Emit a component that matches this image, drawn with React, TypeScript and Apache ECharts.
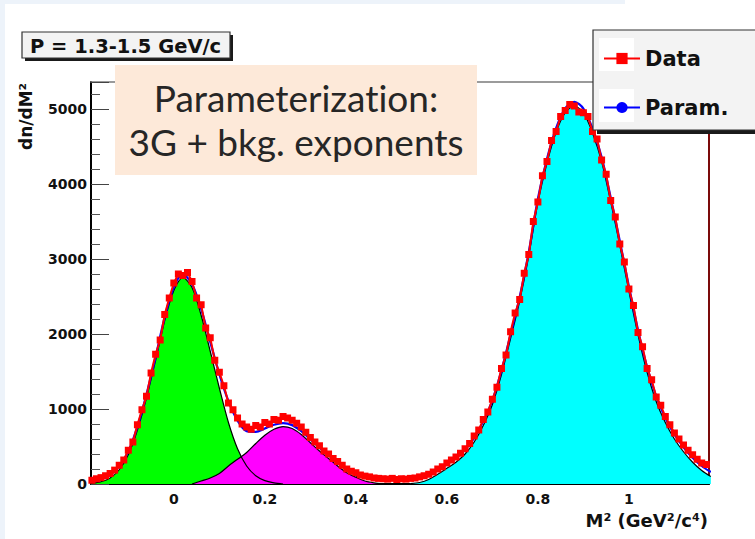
import React, { useEffect, useRef } from "react";
import * as echarts from "echarts";

// ---- Data ----
const dataM2 = [
  -0.18, -0.17, -0.16, -0.15, -0.14, -0.13, -0.12, -0.11, -0.1, -0.09,
  -0.08, -0.07, -0.06, -0.05, -0.04, -0.03, -0.02, -0.01, 0.0, 0.01,
  0.02, 0.03, 0.04, 0.05, 0.06, 0.07, 0.08, 0.09, 0.1, 0.11,
  0.12, 0.13, 0.14, 0.15, 0.16, 0.17, 0.18, 0.19, 0.2, 0.21,
  0.22, 0.23, 0.24, 0.25, 0.26, 0.27, 0.28, 0.29, 0.3, 0.31,
  0.32, 0.33, 0.34, 0.35, 0.36, 0.37, 0.38, 0.39, 0.4, 0.41,
  0.42, 0.43, 0.44, 0.45, 0.46, 0.47, 0.48, 0.49, 0.5, 0.51,
  0.52, 0.53, 0.54, 0.55, 0.56, 0.57, 0.58, 0.59, 0.6, 0.61,
  0.62, 0.63, 0.64, 0.65, 0.66, 0.67, 0.68, 0.69, 0.7, 0.71,
  0.72, 0.73, 0.74, 0.75, 0.76, 0.77, 0.78, 0.79, 0.8, 0.81,
  0.82, 0.83, 0.84, 0.85, 0.86, 0.87, 0.88, 0.89, 0.9, 0.91,
  0.92, 0.93, 0.94, 0.95, 0.96, 0.97, 0.98, 0.99, 1.0, 1.01,
  1.02, 1.03, 1.04, 1.05, 1.06, 1.07, 1.08, 1.09, 1.1, 1.11,
  1.12, 1.13, 1.14, 1.15, 1.16, 1.17, 1.18,
];
const dataCounts = [
  50, 70, 85, 110, 140, 185, 250, 320, 450, 560,
  790, 990, 1170, 1480, 1730, 1920, 2260, 2480, 2680, 2800,
  2780, 2820, 2700, 2480, 2390, 2080, 1950, 1650, 1490, 1310,
  1080, 990, 880, 800, 760, 730, 780, 760, 820, 800,
  860, 850, 900, 880, 850, 810, 760, 690, 620, 560,
  510, 440, 400, 340, 300, 250, 200, 170, 150, 120,
  105, 95, 80, 75, 70, 65, 75, 60, 70, 65,
  75, 80, 95, 110, 130, 160, 200, 230, 280, 320,
  360, 410, 470, 540, 640, 720, 860, 960, 1130, 1290,
  1540, 1720, 2030, 2280, 2460, 2810, 3060, 3500, 3760, 4110,
  4300, 4580, 4700, 4900, 4980, 5060, 5040, 4960, 4950, 4900,
  4700, 4600, 4320, 4130, 3780, 3560, 3200, 2960, 2600, 2380,
  2020, 1830, 1540, 1390, 1160, 1050, 900, 790, 680, 600,
  520, 450, 390, 330, 280, 260, 270,
];

const paramM2 = [
  -0.18, -0.16, -0.14, -0.12, -0.1, -0.08, -0.06, -0.04, -0.02, 0.0,
  0.02, 0.04, 0.06, 0.08, 0.1, 0.12, 0.14, 0.16, 0.18, 0.2,
  0.22, 0.24, 0.26, 0.28, 0.3, 0.32, 0.34, 0.36, 0.38, 0.4,
  0.42, 0.44, 0.46, 0.48, 0.5, 0.52, 0.54, 0.56, 0.58, 0.6,
  0.62, 0.64, 0.66, 0.68, 0.7, 0.72, 0.74, 0.76, 0.78, 0.8,
  0.82, 0.84, 0.86, 0.88, 0.9, 0.92, 0.94, 0.96, 0.98, 1.0,
  1.02, 1.04, 1.06, 1.08, 1.1, 1.12, 1.14, 1.16, 1.18,
];
const paramCounts = [
  55, 75, 125, 235, 435, 765, 1195, 1695, 2225, 2625,
  2795, 2665, 2335, 1895, 1465, 1105, 845, 705, 695, 740,
  790, 811, 785, 705, 595, 485, 385, 285, 195, 135,
  90, 65, 50, 55, 55, 60, 75, 115, 185, 265,
  345, 455, 615, 835, 1115, 1515, 1995, 2495, 3095, 3805,
  4335, 4745, 5005, 5095, 5005, 4740, 4360, 3820, 3240, 2635,
  2055, 1560, 1170, 880, 660, 490, 350, 240, 160,
];

const gaus1M2 = [
  -0.18, -0.16, -0.14, -0.12, -0.1, -0.08, -0.06, -0.04, -0.02, 0.0,
  0.02, 0.04, 0.06, 0.08, 0.1, 0.12, 0.14, 0.16, 0.18, 0.2,
  0.22, 0.24,
];
const gaus1Counts = [
  10, 30, 80, 190, 390, 720, 1150, 1650, 2180, 2580,
  2750, 2620, 2250, 1770, 1280, 820, 470, 240, 110, 45,
  15, 0,
];

const gaus2M2 = [
  0.04, 0.06, 0.08, 0.1, 0.12, 0.14, 0.16, 0.18, 0.2, 0.22,
  0.24, 0.26, 0.28, 0.3, 0.32, 0.34, 0.36, 0.38, 0.4, 0.42,
  0.44, 0.46,
];
const gaus2Counts = [
  0, 40, 80, 140, 240, 330, 420, 540, 650, 730,
  766, 740, 660, 550, 440, 340, 240, 150, 90, 40,
  15, 0,
];

const gaus3M2 = [
  0.52, 0.54, 0.56, 0.58, 0.6, 0.62, 0.64, 0.66, 0.68, 0.7,
  0.72, 0.74, 0.76, 0.78, 0.8, 0.82, 0.84, 0.86, 0.88, 0.9,
  0.92, 0.94, 0.96, 0.98, 1.0, 1.02, 1.04, 1.06, 1.08, 1.1,
  1.12, 1.14, 1.16, 1.18,
];
const gaus3Counts = [
  5, 20, 60, 130, 210, 290, 400, 560, 780, 1060,
  1460, 1940, 2440, 3040, 3750, 4280, 4690, 4950, 5040, 4950,
  4680, 4300, 3760, 3180, 2570, 1990, 1490, 1100, 820, 600,
  430, 290, 180, 100,
];

const xTickValues = [0, 0.2, 0.4, 0.6, 0.8, 1];
const yLabelValues = [0, 1000, 2000, 3000, 4000, 5000];
const legendNames = ["Data", "Param."];
const titleText = "P = 1.3-1.5 GeV/c";
const noteLines = ["Parameterization:", "3G + bkg. exponents"];
const xTitle = "M\u00B2 (GeV\u00B2/c\u2074)";
const yTitle = "dn/dM\u00B2";

const pairs = (xs: number[], ys: number[]) => xs.map((x, i) => [x, ys[i]]);

export default function App() {
  const ref = useRef<HTMLDivElement>(null);

  useEffect(() => {
    if (!ref.current) return;
    const chart = echarts.init(ref.current, null, { renderer: "svg" });
    const rootFont = "DejaVu Sans";
    const xMin = -0.182;
    const xMax = 1.176;
    const yMax = 5360;

    const fillSeries = (name: string, xs: number[], ys: number[], color: string) => ({
      name,
      type: "line",
      data: pairs(xs, ys),
      symbol: "none",
      smooth: 0.3,
      lineStyle: { color: "#000000", width: 1.2 },
      areaStyle: { color, opacity: 1 },
      z: 2,
      silent: true,
    });

    chart.setOption({
      animation: false,
      backgroundColor: "#ffffff",
      grid: { left: 91, top: 82, right: 46, bottom: 55, containLabel: false },
      legend: {
        data: legendNames,
        orient: "vertical",
        left: 598,
        top: 43,
        itemWidth: 36,
        itemHeight: 14,
        itemGap: 28,
        z: 50,
        textStyle: {
          fontFamily: rootFont,
          fontWeight: "bold",
          fontSize: 21,
          color: "#111111",
          padding: [0, 0, 0, 0],
        },
      },
      xAxis: [
        {
          type: "value",
          min: xMin,
          max: xMax,
          position: "bottom",
          axisLine: { show: true, onZero: false, lineStyle: { color: "#000000", width: 2 } },
          axisTick: {
            show: true,
            inside: true,
            length: 10,
            customValues: xTickValues,
            lineStyle: { color: "#333333" },
          },
          axisLabel: {
            customValues: xTickValues,
            formatter: (v: number) => String(v),
            margin: 8,
            fontFamily: rootFont,
            fontWeight: "bold",
            fontSize: 14,
            color: "#111111",
          },
          splitLine: { show: false },
        },
        {
          type: "value",
          min: xMin,
          max: xMax,
          position: "top",
          axisLine: { show: true, onZero: false, lineStyle: { color: "#7a7a7a", width: 1.5 } },
          axisTick: { show: false },
          axisLabel: { show: false },
          splitLine: { show: false },
        },
      ],
      yAxis: [
        {
          type: "value",
          min: 0,
          max: yMax,
          interval: 1000,
          position: "left",
          axisLine: { show: true, onZero: false, lineStyle: { color: "#000000", width: 2 } },
          axisTick: { show: true, inside: true, length: 18, lineStyle: { color: "#444444" } },
          minorTick: { show: true, splitNumber: 5, length: 9, lineStyle: { color: "#555555" } },
          axisLabel: {
            customValues: yLabelValues,
            formatter: (v: number) => String(v),
            margin: 4,
            fontFamily: rootFont,
            fontWeight: "bold",
            fontSize: 14,
            color: "#111111",
          },
          splitLine: { show: false },
          minorSplitLine: { show: false },
        },
        {
          type: "value",
          min: 0,
          max: yMax,
          position: "right",
          axisLine: { show: true, onZero: false, lineStyle: { color: "#7b0a0a", width: 2 } },
          axisTick: { show: false },
          axisLabel: { show: false },
          splitLine: { show: false },
        },
      ],
      series: [
        fillSeries("gaus3", gaus3M2, gaus3Counts, "#00ffff"),
        fillSeries("gaus1", gaus1M2, gaus1Counts, "#00ff00"),
        fillSeries("gaus2", gaus2M2, gaus2Counts, "#ff00ff"),
        {
          name: "Param.",
          type: "line",
          data: pairs(paramM2, paramCounts),
          symbol: "circle",
          symbolSize: 3,
          showSymbol: false,
          smooth: 0.3,
          lineStyle: { color: "#0000ff", width: 2.2 },
          itemStyle: { color: "#0000ff" },
          z: 3,
        },
        {
          name: "Data",
          type: "line",
          data: pairs(dataM2, dataCounts),
          symbol: "rect",
          symbolSize: 7,
          lineStyle: { color: "#ff0000", width: 2 },
          itemStyle: { color: "#ff0000" },
          z: 4,
        },
      ],
      graphic: [
        // pale blue page edges
        { type: "rect", shape: { x: 0, y: 0, width: 625, height: 4 }, style: { fill: "#edf3fa" }, z: 1 },
        { type: "rect", shape: { x: 0, y: 0, width: 5, height: 539 }, style: { fill: "#edf3fa" }, z: 1 },
        // title pave
        { type: "rect", shape: { x: 25, y: 35, width: 208, height: 26 }, style: { fill: "#1a1a1a" }, z: 40 },
        {
          type: "rect",
          shape: { x: 22, y: 32, width: 208, height: 26 },
          style: { fill: "#f3f3f3", stroke: "#333333", lineWidth: 1.2 },
          z: 41,
        },
        {
          type: "text",
          x: 30,
          y: 46,
          style: {
            text: titleText,
            fontFamily: rootFont,
            fontWeight: "bold",
            fontSize: 19.5,
            fill: "#111111",
            align: "left",
            verticalAlign: "middle",
          },
          z: 42,
        },
        // legend box
        { type: "rect", shape: { x: 597, y: 34, width: 170, height: 100 }, style: { fill: "#1a1a1a" }, z: 40 },
        {
          type: "rect",
          shape: { x: 593, y: 30, width: 170, height: 100 },
          style: { fill: "#f3f3f3", stroke: "#333333", lineWidth: 1.2 },
          z: 41,
        },
        { type: "rect", shape: { x: 599, y: 38, width: 35, height: 33 }, style: { fill: "#ffffff" }, z: 42 },
        { type: "rect", shape: { x: 599, y: 89, width: 35, height: 33 }, style: { fill: "#ffffff" }, z: 42 },
        // annotation box
        { type: "rect", shape: { x: 115, y: 65, width: 362, height: 110 }, style: { fill: "#fde9d9" }, z: 40 },
        {
          type: "text",
          x: 296,
          y: 97,
          style: {
            text: noteLines[0],
            fontFamily: "Lato",
            fontSize: 37,
            fill: "#262626",
            align: "center",
            verticalAlign: "middle",
          },
          z: 41,
        },
        {
          type: "text",
          x: 296,
          y: 141,
          style: {
            text: noteLines[1],
            fontFamily: "Lato",
            fontSize: 37,
            fill: "#262626",
            align: "center",
            verticalAlign: "middle",
          },
          z: 41,
        },
        // axis titles
        {
          type: "text",
          x: 708,
          y: 520,
          style: {
            text: xTitle,
            fontFamily: rootFont,
            fontWeight: "bold",
            fontSize: 18,
            fill: "#111111",
            align: "right",
            verticalAlign: "middle",
          },
          z: 41,
        },
        {
          type: "text",
          x: 26,
          y: 83,
          rotation: Math.PI / 2,
          style: {
            text: yTitle,
            fontFamily: rootFont,
            fontWeight: "bold",
            fontSize: 17,
            fill: "#111111",
            align: "right",
            verticalAlign: "middle",
          },
          z: 41,
        },
      ],
    });

    return () => {
      chart.dispose();
    };
  }, []);

  return (
    <>
      <style>{"text{font-variant-ligatures:none;font-feature-settings:'liga' 0;}"}</style>
      <div
        ref={ref}
        style={{ position: "absolute", left: 0, top: 0, width: 755, height: 539 }}
      />
    </>
  );
}
